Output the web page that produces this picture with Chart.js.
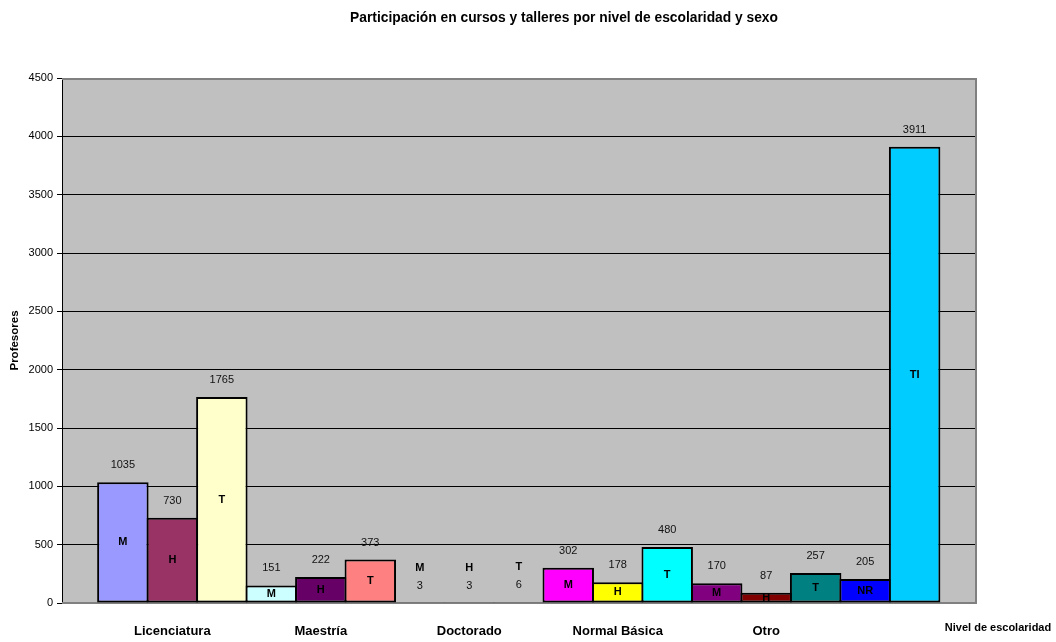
<!DOCTYPE html>
<html><head><meta charset="utf-8">
<script src="https://cdn.jsdelivr.net/npm/chart.js@4.4.1/dist/chart.umd.min.js"></script>
<style>html,body{margin:0;padding:0;background:#fff;}#wrap{width:1056px;height:642px;position:relative;}</style>
</head><body><div id="wrap"><canvas id="c" width="1056" height="642"></canvas></div>
<script>
const chartTitle = 'Participación en cursos y talleres por nivel de escolaridad y sexo';
const yAxisTitle = 'Profesores';
const xAxisTitle = 'Nivel de escolaridad';
const barCodes = ['M','H','T','M','H','T','M','H','T','M','H','T','M','H','T','NR','TI'];
const barValues = [1035,730,1765,151,222,373,3,3,6,302,178,480,170,87,257,205,3911];
const barColors = ['#9999FF','#993366','#FFFFCC','#CCFFFF','#660066','#FF8080','#0066CC','#CCCCFF','#000080','#FF00FF','#FFFF00','#00FFFF','#800080','#800000','#008080','#0000FF','#00CCFF'];
const groupNames = ['Licenciatura','Maestría','Doctorado','Normal Básica','Otro'];
const yTicks = [0,500,1000,1500,2000,2500,3000,3500,4000,4500];

const FONT = "'Liberation Sans', Arial, sans-serif";

const decor = {
  id: 'decor',
  beforeDraw(chart) {
    const {ctx, chartArea: a} = chart;
    ctx.save();
    ctx.fillStyle = '#C0C0C0';
    ctx.fillRect(a.left, a.top, a.right - a.left, a.bottom - a.top);
    ctx.restore();
  },
  beforeDatasetsDraw(chart) {
    const {ctx, chartArea: a} = chart;
    ctx.save();
    ctx.strokeStyle = '#808080';
    ctx.lineWidth = 2;
    ctx.beginPath();
    ctx.moveTo(a.left, a.top + 1);
    ctx.lineTo(a.right - 1, a.top + 1);
    ctx.lineTo(a.right - 1, a.bottom);
    ctx.moveTo(a.left, a.bottom);
    ctx.lineTo(a.right, a.bottom);
    ctx.stroke();
    ctx.restore();
  },
  afterDatasetsDraw(chart) {
    const {ctx} = chart;
    const meta = chart.getDatasetMeta(0);
    ctx.save();
    ctx.textAlign = 'center';
    ctx.textBaseline = 'middle';
    meta.data.forEach((el, i) => {
      const h = el.base - el.y;
      ctx.fillStyle = '#111';
      ctx.font = '11px ' + FONT;
      ctx.fillText(String(barValues[i]), el.x, el.y - 17);
      ctx.fillStyle = '#000';
      ctx.font = 'bold 11px ' + FONT;
      if (h >= 4) {
        ctx.fillText(barCodes[i], el.x, (el.y + el.base) / 2);
      } else {
        ctx.fillText(barCodes[i], el.x, el.y - 35);
      }
    });
    ctx.restore();
  },
  afterDraw(chart) {
    const {ctx, chartArea: a} = chart;
    ctx.save();
    ctx.fillStyle = '#000';
    ctx.textAlign = 'center';
    ctx.textBaseline = 'middle';
    ctx.font = 'bold 13.8px ' + FONT;
    ctx.fillText(chartTitle, 564, 18);
    ctx.font = 'bold 11px ' + FONT;
    ctx.fillText(xAxisTitle, 998, 628);
    ctx.font = 'bold 11.5px ' + FONT;
    ctx.translate(15, (a.top + a.bottom) / 2);
    ctx.rotate(-Math.PI / 2);
    ctx.fillText(yAxisTitle, 0, 0);
    ctx.restore();
  }
};

new Chart(document.getElementById('c'), {
  type: 'bar',
  data: {
    datasets: [{
      data: barValues.map((v, i) => ({x: i, y: v})),
      backgroundColor: barColors,
      borderColor: '#000',
      borderWidth: 2,
      borderSkipped: false,
      barPercentage: 1.04,
      categoryPercentage: 1
    }]
  },
  options: {
    responsive: false,
    animation: false,
    layout: {padding: {top: 78, right: 79, left: 0, bottom: 0}},
    plugins: {legend: {display: false}, tooltip: {enabled: false}, title: {display: false}},
    scales: {
      x: {
        type: 'linear',
        offset: false,
        min: -1.23,
        max: 17.26,
        afterBuildTicks(scale) { scale.ticks = groupNames.map((n, g) => ({value: 3 * g + 1})); },
        afterFit(scale) { scale.height = 39; },
        grid: {display: false, drawTicks: false, offset: false},
        border: {display: false},
        ticks: {
          autoSkip: false, maxRotation: 0, padding: 21,
          color: '#000', font: {family: FONT, size: 13, weight: 'bold'},
          callback: (v, i) => groupNames[i]
        }
      },
      y: {
        min: 0, max: 4500,
        afterBuildTicks(scale) { scale.ticks = yTicks.map(v => ({value: v})); },
        afterFit(scale) { scale.width = 62; },
        grid: {color: '#000', lineWidth: 1, drawTicks: true, tickLength: 5, tickColor: '#000'},
        border: {display: true, color: '#000', width: 1},
        ticks: {padding: 4, color: '#000', font: {family: FONT, size: 11}, callback: v => String(v)}
      }
    }
  },
  plugins: [decor]
});
</script></body></html>
